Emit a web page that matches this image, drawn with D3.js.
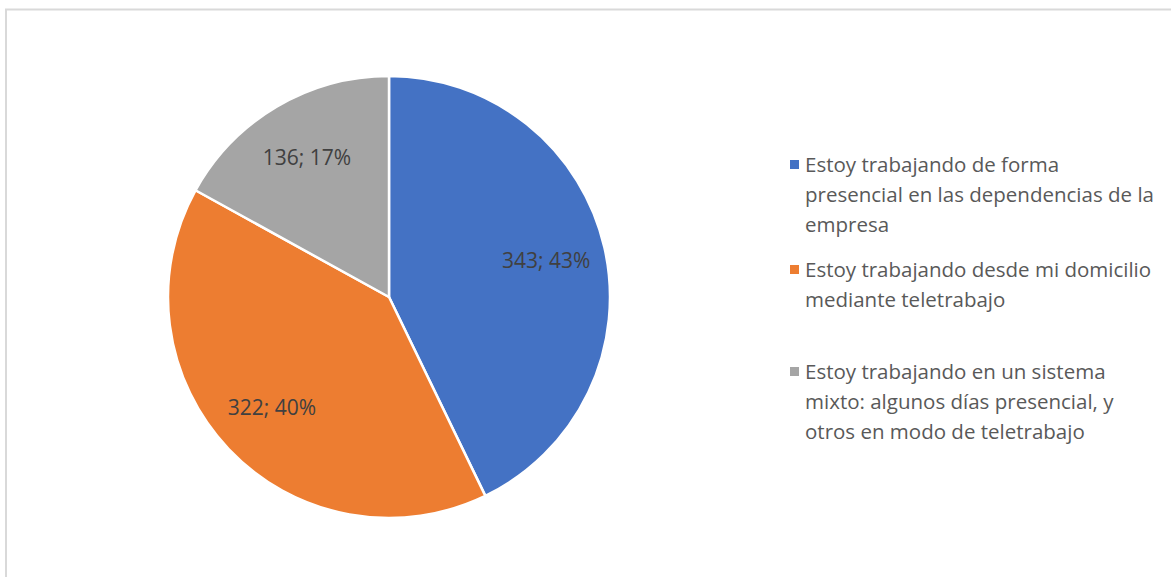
<!DOCTYPE html>
<html>
<head>
<meta charset="utf-8">
<script src="https://cdn.jsdelivr.net/npm/d3@7"></script>
<style>
  body { margin: 0; background: #fff; }
  svg { display: block; font-family: "Open Sans", sans-serif; }
</style>
</head>
<body>
<div id="chart-area"></div>
<script>
// Data
var categories = [
    "Estoy trabajando de forma presencial en las dependencias de la empresa",
    "Estoy trabajando desde mi domicilio mediante teletrabajo",
    "Estoy trabajando en un sistema mixto: algunos días presencial, y otros en modo de teletrabajo"
];
var values = [343, 322, 136];
var percents = ["43%", "40%", "17%"];
// legend lines as they wrap in the picture
var legendLines = [
    ["Estoy trabajando de forma", "presencial en las dependencias de la", "empresa"],
    ["Estoy trabajando desde mi domicilio", "mediante teletrabajo"],
    ["Estoy trabajando en un sistema", "mixto: algunos días presencial, y", "otros en modo de teletrabajo"]
];
var colors = ["#4472c4", "#ed7d31", "#a5a5a5"];

var width = 1171, height = 577;

var svg = d3.select("#chart-area").append("svg")
    .attr("width", width)
    .attr("height", height);

// chart border
svg.append("rect")
    .attr("x", 6)
    .attr("y", 9.5)
    .attr("width", width + 10)
    .attr("height", height + 10)
    .attr("fill", "none")
    .attr("stroke", "#d9d9d9")
    .attr("stroke-width", 2);

var cx = 389, cy = 297, radius = 221;

var pie = d3.pie().sort(null).value(function(d) { return d; });
var arcs = pie(values);

var arc = d3.arc().innerRadius(0).outerRadius(radius);
var labelArc = d3.arc().innerRadius(radius * 0.73).outerRadius(radius * 0.73);

var g = svg.append("g")
    .attr("transform", "translate(" + cx + "," + cy + ")");

g.selectAll("path")
    .data(arcs)
    .enter()
    .append("path")
    .attr("d", arc)
    .attr("fill", function(d, i) { return colors[i]; })
    .attr("stroke", "#fff")
    .attr("stroke-width", 2.5)
    .attr("stroke-linejoin", "round");

//Data labels
g.selectAll(".lbl")
    .data(arcs)
    .enter()
    .append("text")
    .attr("class", "lbl")
    .attr("transform", function(d) {
        var c = labelArc.centroid(d);
        return "translate(" + c[0] + "," + c[1] + ")";
    })
    .attr("dy", "0.35em")
    .attr("text-anchor", "middle")
    .style("font-size", "21px")
    .style("fill", "#404040")
    .text(function(d, i) { return values[i] + "; " + percents[i]; });

//Legend
var legendX = 790, legendTop = [165, 270, 372], lineH = 30;

var legend = svg.selectAll(".legend")
    .data(categories)
    .enter()
    .append("g")
    .attr("class", "legend")
    .attr("transform", function(d, i) { return "translate(" + legendX + "," + legendTop[i] + ")"; });

legend.append("rect")
    .attr("x", 0)
    .attr("y", -5)
    .attr("width", 9)
    .attr("height", 9)
    .attr("fill", function(d, i) { return colors[i]; });

legend.append("text")
    .attr("x", 15)
    .attr("y", 0)
    .style("font-size", "20.5px")
    .style("fill", "#595959")
    .selectAll("tspan")
    .data(function(d, i) { return legendLines[i]; })
    .enter()
    .append("tspan")
    .attr("x", 15)
    .attr("y", function(d, j) { return j * lineH; })
    .attr("dy", "0.35em")
    .text(function(d) { return d; });
</script>
</body>
</html>
